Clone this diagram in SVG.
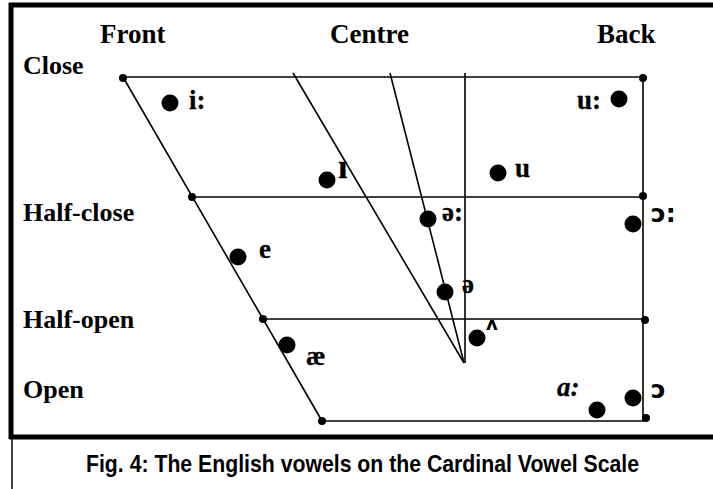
<svg xmlns="http://www.w3.org/2000/svg" width="713" height="489" viewBox="0 0 713 489">
  <style>
    .frame { stroke: #000; stroke-width: 5; fill: none; }
    .thin { stroke: #000; stroke-width: 1.5; fill: none; }
    .grid { stroke: #000; stroke-width: 1.6; fill: none; }
    .corner { fill: #000; }
    .vowel { fill: #000; }
    .head { font-family: "Liberation Serif", "Times New Roman", serif; font-weight: bold; font-size: 26px; fill: #000; }
    .sym { font-family: "Liberation Serif", "Times New Roman", serif; font-weight: bold; font-size: 27px; fill: #000; stroke: #000; stroke-width: 0.3; }
    .ipa { font-family: "DejaVu Sans", "Liberation Sans", sans-serif; font-weight: bold; font-size: 25px; fill: #000; }
    .cap { font-family: "Liberation Sans", Arial, sans-serif; font-weight: bold; font-size: 24px; fill: #000; }
  </style>

  <rect width="713" height="489" fill="#fff"/>

  <!-- outer frame -->
  <g id="frame">
    <line class="frame" x1="9" y1="5" x2="713" y2="5"/>
    <line class="frame" x1="11" y1="3" x2="11" y2="439"/>
    <line class="frame" x1="9" y1="437" x2="713" y2="437"/>
    <line class="thin" x1="12" y1="439" x2="12" y2="489"/>
  </g>

  <!-- column and row headings -->
  <g id="headings">
    <text class="head" x="100" y="43" style="font-size:27px">Front</text>
    <text class="head" x="330" y="43" style="font-size:27px">Centre</text>
    <text class="head" x="597" y="43" style="font-size:27px">Back</text>
    <text class="head" x="23" y="74">Close</text>
    <text class="head" x="23" y="221">Half-close</text>
    <text class="head" x="23" y="328">Half-open</text>
    <text class="head" x="23" y="398">Open</text>
  </g>

  <!-- vowel quadrilateral -->
  <g id="connectors">
    <line class="grid" x1="123" y1="77" x2="643" y2="77"/>
    <line class="grid" x1="192" y1="197" x2="643" y2="197"/>
    <line class="grid" x1="263" y1="319" x2="645" y2="319"/>
    <line class="grid" x1="322" y1="421" x2="645" y2="421"/>
    <line class="grid" x1="123" y1="77" x2="322" y2="421"/>
    <line class="grid" x1="643" y1="77" x2="643" y2="420"/>
    <line class="grid" x1="465" y1="73" x2="465" y2="363"/>
    <line class="grid" x1="293" y1="73" x2="464" y2="363"/>
    <line class="grid" x1="390" y1="73" x2="464" y2="363"/>
  </g>

  <g id="corners">
    <circle class="corner" cx="123" cy="78" r="4"/>
    <circle class="corner" cx="643" cy="78" r="4"/>
    <circle class="corner" cx="192" cy="197" r="4"/>
    <circle class="corner" cx="643" cy="196" r="4"/>
    <circle class="corner" cx="263" cy="319" r="4"/>
    <circle class="corner" cx="645" cy="320" r="4"/>
    <circle class="corner" cx="322" cy="421" r="4"/>
    <circle class="corner" cx="646" cy="418" r="4"/>
  </g>

  <!-- vowels -->
  <g id="v-i-long">
    <circle class="vowel" cx="170" cy="103" r="8.5"/>
    <text class="sym" x="189" y="109">i:</text>
  </g>
  <g id="v-u-long">
    <circle class="vowel" cx="619" cy="99" r="8.5"/>
    <text class="sym" x="577" y="109">u:</text>
  </g>
  <g id="v-i-short">
    <circle class="vowel" cx="327" cy="180" r="8.5"/>
    <text class="sym" x="338" y="178" style="font-size:34px">ɪ</text>
  </g>
  <g id="v-u-short">
    <circle class="vowel" cx="498" cy="173" r="8.5"/>
    <text class="sym" x="515" y="177">u</text>
  </g>
  <g id="v-schwa-long">
    <circle class="vowel" cx="428" cy="219" r="8.5"/>
    <text class="sym" x="442" y="221">ə:</text>
  </g>
  <g id="v-open-o-long">
    <circle class="vowel" cx="633" cy="224" r="8.5"/>
    <text class="ipa" x="651" y="222">ɔ:</text>
  </g>
  <g id="v-e">
    <circle class="vowel" cx="238" cy="257" r="8.5"/>
    <text class="sym" x="259" y="258">e</text>
  </g>
  <g id="v-schwa">
    <circle class="vowel" cx="445" cy="292" r="8.5"/>
    <text class="sym" x="462" y="293">ə</text>
  </g>
  <g id="v-wedge">
    <circle class="vowel" cx="477" cy="338" r="8.5"/>
    <text class="ipa" x="486" y="330" style="font-size:18px">ʌ</text>
  </g>
  <g id="v-ae">
    <circle class="vowel" cx="287" cy="345" r="8.5"/>
    <text class="sym" x="306" y="365">æ</text>
  </g>
  <g id="v-a-long">
    <circle class="vowel" cx="597" cy="410" r="8.5"/>
    <text class="sym" x="557" y="396" style="font-style:italic">a:</text>
  </g>
  <g id="v-open-o">
    <circle class="vowel" cx="633" cy="398" r="8.5"/>
    <text class="ipa" x="651" y="398">ɔ</text>
  </g>

  <!-- caption -->
  <text class="cap" x="86" y="472" textLength="553" lengthAdjust="spacingAndGlyphs">Fig. 4: The English vowels on the Cardinal Vowel Scale</text>
</svg>
